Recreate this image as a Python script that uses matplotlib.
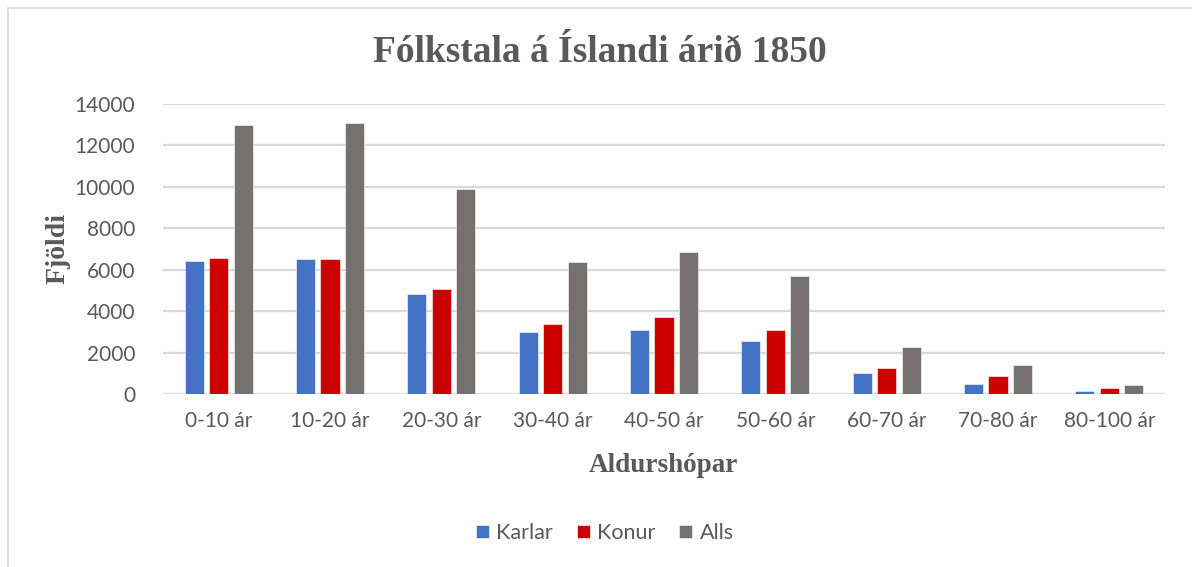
import matplotlib
matplotlib.use("Agg")
import matplotlib.pyplot as plt
import numpy as np
from matplotlib.patches import Rectangle

categories = ["0-10 ár", "10-20 ár", "20-30 ár", "30-40 ár", "40-50 ár",
              "50-60 ár", "60-70 ár", "70-80 ár", "80-100 ár"]
karlar = [6400, 6500, 4830, 2980, 3100, 2570, 1000, 480, 145]
konur = [6550, 6530, 5050, 3380, 3700, 3090, 1250, 880, 290]
alls = [12990, 13100, 9900, 6370, 6840, 5700, 2270, 1400, 450]

series = [("Karlar", karlar, "#4472C4"),
          ("Konur", konur, "#CC0000"),
          ("Alls", alls, "#767171")]

text_grey = "#595959"
grid_grey = "#D9D9D9"

fig = plt.figure(figsize=(11.92, 5.67), dpi=100)
ax = fig.add_axes([163 / 1192, 1 - 394 / 567, 1002 / 1192, 290 / 567])

# outer chart border
fig.add_artist(Rectangle((8 / 1192, -0.1), 1.2, 1 - 8 / 567 + 0.1,
                         transform=fig.transFigure, fill=False,
                         edgecolor=grid_grey, linewidth=1.2))

x = np.arange(len(categories))
w = 0.172
step = 0.22
for i, (name, vals, col) in enumerate(series):
    ax.bar(x + (i - 1) * step, vals, width=w, color=col, label=name,
           edgecolor="white", linewidth=0.4, zorder=3)

ax.set_xlim(-0.5, len(categories) - 0.5)
ax.set_ylim(0, 14000)
ax.set_yticks(np.arange(0, 14001, 2000))
ax.grid(axis="y", color=grid_grey, linewidth=1.6, zorder=0)
for s in ax.spines.values():
    s.set_visible(False)
ax.tick_params(length=0, labelsize=15, labelcolor=text_grey)
ax.tick_params(axis="y", pad=20)
ax.tick_params(axis="x", pad=12)
ax.set_xticks(x)
ax.set_xticklabels(categories)
for lab in ax.get_xticklabels() + ax.get_yticklabels():
    lab.set_fontfamily("Lato")

serif = "Liberation Serif"
fig.text(0.503, 1 - 52 / 567, "Fólkstala á Íslandi árið 1850", ha="center",
         va="center", fontsize=27, fontweight="bold", color=text_grey,
         family=serif)
fig.text(58 / 1192, 1 - 249 / 567, "Fjöldi", rotation=90, ha="center",
         va="center", fontsize=20, fontweight="bold", color=text_grey,
         family=serif)
fig.text(663 / 1192, 1 - 465 / 567, "Aldurshópar", ha="center", va="center",
         fontsize=19.5, fontweight="bold", color=text_grey, family=serif)

leg = fig.legend(loc="center", bbox_to_anchor=(605 / 1192, 1 - 533 / 567),
                 ncol=3, frameon=False, handlelength=0.6, handleheight=0.6,
                 handletextpad=0.35, columnspacing=1.1,
                 prop={"family": "Lato", "size": 15.5})
for t in leg.get_texts():
    t.set_color(text_grey)

fig.savefig("out.png", dpi=100)
